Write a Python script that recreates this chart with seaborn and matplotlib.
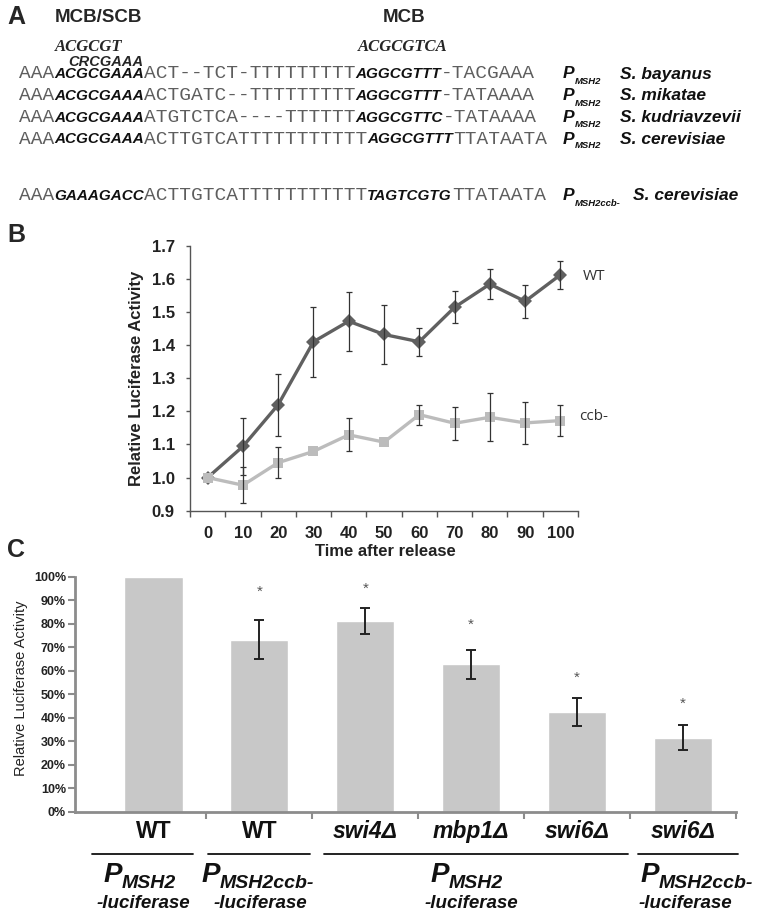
import numpy as np
import pandas as pd
import matplotlib
matplotlib.use('Agg')
import matplotlib.pyplot as plt
import matplotlib.transforms as mtransforms
import seaborn as sns

# panel A: promoter alignment (text only)
seq_rows = [
    ['AAA', 'ACGCGAAA', 'ACT--TCT-TTTTTTTTT', 'AGGCGTTT', '-TACGAAA'],
    ['AAA', 'ACGCGAAA', 'ACTGATC--TTTTTTTTT', 'AGGCGTTT', '-TATAAAA'],
    ['AAA', 'ACGCGAAA', 'ATGTCTCA----TTTTTT', 'AGGCGTTC', '-TATAAAA'],
    ['AAA', 'ACGCGAAA', 'ACTTGTCATTTTTTTTTTT', 'AGGCGTTT', 'TTATAATA'],
    ['AAA', 'GAAAGACC', 'ACTTGTCATTTTTTTTTTT', 'TAGTCGTG', 'TTATAATA'],
]
seq_promoter = ['MSH2', 'MSH2', 'MSH2', 'MSH2', 'MSH2ccb-']
seq_species = ['S. bayanus', 'S. mikatae', 'S. kudriavzevii', 'S. cerevisiae', 'S. cerevisiae']

# panel B: luciferase time course
times = [0, 10, 20, 30, 40, 50, 60, 70, 80, 90, 100]
wt_mean = [1.00, 1.094, 1.22, 1.41, 1.472, 1.432, 1.41, 1.514, 1.584, 1.532, 1.612]
wt_err = [0, 0.085, 0.094, 0.105, 0.089, 0.088, 0.042, 0.048, 0.045, 0.05, 0.042]
ccb_mean = [1.00, 0.977, 1.045, 1.079, 1.129, 1.107, 1.19, 1.164, 1.182, 1.165, 1.172]
ccb_err = [0, 0.055, 0.047, 0, 0.05, 0, 0.03, 0.05, 0.072, 0.064, 0.047]

# panel C: relative activity per strain
strains = ['WT', 'WT', 'swi4Δ', 'mbp1Δ', 'swi6Δ', 'swi6Δ']
strain_italic = [False, False, True, True, True, True]
activity = [100, 73.1, 81.1, 62.7, 42.4, 31.5]
activity_err = [0, 8.3, 5.5, 6.2, 5.8, 5.2]
star_y = [None, 93.7, 95.0, 79.4, 56.8, 46.1]
reporters = ['MSH2', 'MSH2ccb-', 'MSH2', 'MSH2ccb-']

sns.set_style('white')
plt.rcParams['font.family'] = ['Liberation Sans', 'DejaVu Sans']

W, H = 763, 916
fig = plt.figure(figsize=(W / 100, H / 100), dpi=100)
renderer = fig.canvas.get_renderer()


def fx(x):
    return x / W


def fy(y):
    return 1 - y / H


def put(x, y, s, **kw):
    kw.setdefault('va', 'center')
    return fig.text(fx(x), fy(y), s, **kw)


def p_sub(x, y, sub, size, subsize, dy, center=False):
    t1 = put(x, y, 'P', fontsize=size, fontweight='bold', fontstyle='italic', color='#111')
    t2 = put(x, y + dy, sub, fontsize=subsize, fontweight='bold', fontstyle='italic', color='#111')
    w1 = t1.get_window_extent(renderer).width
    w2 = t2.get_window_extent(renderer).width
    x0 = x - (w1 + w2) / 2 if center else x
    t1.set_x(fx(x0))
    t2.set_x(fx(x0 + w1))


# ---------------- panel A ----------------
put(7, 17, 'A', fontsize=18, fontweight='bold')
put(55, 17, 'MCB/SCB', fontsize=13.5, fontweight='bold')
put(383, 17, 'MCB', fontsize=13.5, fontweight='bold')
put(55, 46.7, 'ACGCGT', fontsize=12, fontweight='bold', fontstyle='italic', family='Liberation Serif')
put(68, 61.7, 'CRCGAAA', fontsize=10.5, fontweight='bold', fontstyle='italic')
put(358, 46.7, 'ACGCGTCA', fontsize=12, fontweight='bold', fontstyle='italic', family='Liberation Serif')

row_y = [74, 96, 117.5, 139, 196]
for r, chunks in enumerate(seq_rows):
    x = 19
    for k, s in enumerate(chunks):
        if k % 2 == 1:
            t = put(x, row_y[r], s, fontsize=11, fontweight='bold',
                    fontstyle='italic', color='#111')
        else:
            t = put(x, row_y[r], s, fontsize=14, family='Liberation Mono',
                    color='#5e5e5e')
        x += t.get_window_extent(renderer).width
    p_sub(563, row_y[r], seq_promoter[r], 12.5, 6.8, 7)
    put(620 if r < 4 else 633, row_y[r], seq_species[r], fontsize=12.5,
        fontweight='bold', fontstyle='italic', color='#111')

# ---------------- panel B ----------------
put(7, 235, 'B', fontsize=18, fontweight='bold')
axB = fig.add_axes([fx(190), fy(510.7), (578 - 190) / W, (510.7 - 245.7) / H])

pos = list(range(len(times)))
dfB = pd.DataFrame({
    'pos': pos * 2,
    'value': wt_mean + ccb_mean,
    'strain': ['WT'] * len(times) + ['ccb-'] * len(times),
})
sns.lineplot(data=dfB, x='pos', y='value', hue='strain', style='strain',
             markers={'WT': 'D', 'ccb-': 's'}, dashes=False,
             palette={'WT': '#606060', 'ccb-': '#bcbcbc'},
             linewidth=2.4, markersize=7.5, markeredgewidth=0,
             errorbar=None, legend=False, ax=axB)
for mean, err in [(wt_mean, wt_err), (ccb_mean, ccb_err)]:
    idx = [i for i in pos if err[i] > 0]
    axB.errorbar([pos[i] for i in idx], [mean[i] for i in idx],
                 yerr=[err[i] for i in idx], fmt='none', ecolor='#333333',
                 elinewidth=0.9, capsize=2.5, capthick=0.9, zorder=4)

axB.set_xlim(-0.5, 10.5)
axB.set_ylim(0.9, 1.7)
axB.set_yticks(np.arange(0.9, 1.71, 0.1))
axB.set_yticklabels([f'{v:.1f}' for v in np.arange(0.9, 1.71, 0.1)],
                    fontsize=12, fontweight='bold', color='#222')
axB.set_xticks(np.arange(-0.5, 11, 1))
axB.set_xticklabels([])
axB.set_xticks(pos, minor=True)
axB.set_xticklabels([str(t) for t in times], minor=True, fontsize=12,
                    fontweight='bold', color='#222')
axB.tick_params(axis='x', which='major', bottom=True, length=4, width=1,
                color='#555555', direction='out')
axB.tick_params(axis='x', which='minor', bottom=True, length=0, pad=11)
axB.tick_params(axis='y', left=True, length=3, width=1, color='#555555',
                direction='out', pad=8)
axB.set_xlabel('')
axB.set_ylabel('')
for side in ['top', 'right']:
    axB.spines[side].set_visible(False)
for side in ['left', 'bottom']:
    axB.spines[side].set_color('#555555')
    axB.spines[side].set_linewidth(1)
put(385, 551, 'Time after release', fontsize=12, fontweight='bold', ha='center', color='#222')
put(137, 378, 'Relative Luciferase Activity', fontsize=12, fontweight='bold',
    ha='center', rotation=90, color='#222')
put(583, 277, 'WT', fontsize=11, family='Open Sans', color='#333')
put(579, 417, 'ccb-', fontsize=11, family='Open Sans', color='#333')

# ---------------- panel C ----------------
put(7, 550, 'C', fontsize=18, fontweight='bold')
axC = fig.add_axes([fx(75), fy(811.7), (735.7 - 75) / W, 235 / H])
dfC = pd.DataFrame({'pos': range(len(strains)), 'activity': activity})
sns.barplot(data=dfC, x='pos', y='activity', color='#c8c8c8', saturation=1,
            width=0.55, errorbar=None, ax=axC)
idx = [i for i in range(len(strains)) if activity_err[i] > 0]
axC.errorbar(idx, [activity[i] for i in idx], yerr=[activity_err[i] for i in idx],
             fmt='none', ecolor='#222222', elinewidth=1.4, capsize=3.5, capthick=1.4,
             zorder=4)
for i, s in enumerate(star_y):
    if s is not None:
        axC.text(i, s, '*', ha='center', va='center', fontsize=11, color='#555')

axC.set_xlim(-0.742, 5.49)
axC.set_ylim(0, 100)
axC.set_yticks(range(0, 101, 10))
axC.set_yticklabels([f'{v}%' for v in range(0, 101, 10)], fontsize=9,
                    fontweight='bold', color='#222')
axC.set_xticks(np.arange(0.5, 6, 1))
axC.set_xticklabels([])
axC.tick_params(axis='x', bottom=True, length=5, width=1.5, color='#8c8c8c',
                direction='out')
axC.tick_params(axis='y', left=True, length=5, width=1.5, color='#8c8c8c',
                direction='out', pad=1.5)
axC.set_xlabel('')
axC.set_ylabel('')
for side in ['top', 'right']:
    axC.spines[side].set_visible(False)
for side in ['left', 'bottom']:
    axC.spines[side].set_color('#8c8c8c')
    axC.spines[side].set_linewidth(2)
put(21, 688, 'Relative Luciferase Activity', fontsize=10.5, ha='center',
    rotation=90, color='#222')

blend = mtransforms.blended_transform_factory(axC.transData, fig.transFigure)
for i, s in enumerate(strains):
    axC.text(i, fy(831.7), s, transform=blend, ha='center', va='center',
             fontsize=16.5, fontweight='bold',
             fontstyle='italic' if strain_italic[i] else 'normal', color='#111')

underline_px = [(92, 193), (208, 310), (324, 628), (638, 738)]
p_center = [140, 258, 467, 697]
luc_center = [143.5, 260, 471.5, 685]
for k, (x0, x1) in enumerate(underline_px):
    fig.add_artist(plt.Line2D([fx(x0), fx(x1)], [fy(854), fy(854)], color='#111', lw=1.3))
    p_sub(p_center[k], 875, reporters[k], 20, 14, 9, center=True)
    put(luc_center[k], 903, '-luciferase', fontsize=13.5, fontweight='bold',
        fontstyle='italic', ha='center', color='#111')

fig.savefig('out.png', dpi=100)
